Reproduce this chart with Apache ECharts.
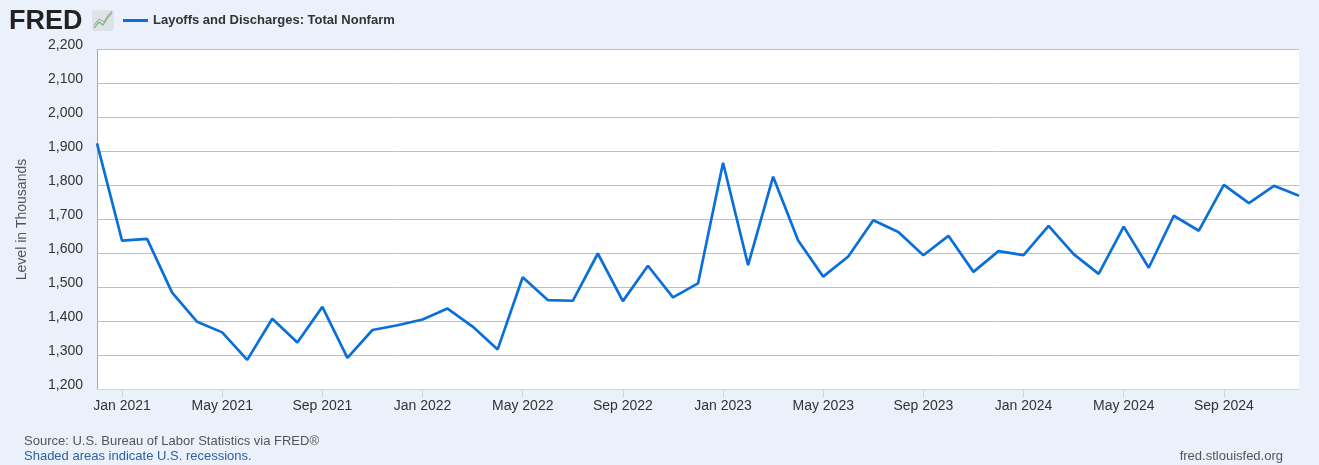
<!DOCTYPE html>
<html>
<head>
<meta charset="utf-8">
<script src="https://cdn.jsdelivr.net/npm/echarts@6/dist/echarts.min.js"></script>
<style>
html,body{margin:0;padding:0;background:#eaf1fa;}
#chart{width:1319px;height:465px;}
</style>
</head>
<body>
<div id="chart"></div>
<script>
var months = ['2020-12',
  '2021-01','2021-02','2021-03','2021-04','2021-05','2021-06','2021-07','2021-08','2021-09','2021-10','2021-11','2021-12',
  '2022-01','2022-02','2022-03','2022-04','2022-05','2022-06','2022-07','2022-08','2022-09','2022-10','2022-11','2022-12',
  '2023-01','2023-02','2023-03','2023-04','2023-05','2023-06','2023-07','2023-08','2023-09','2023-10','2023-11','2023-12',
  '2024-01','2024-02','2024-03','2024-04','2024-05','2024-06','2024-07','2024-08','2024-09','2024-10','2024-11','2024-12'];
var layoffs = [1924,
  1638,1643,1485,1399,1368,1287,1408,1338,1443,1293,1375,1389,
  1406,1438,1385,1318,1530,1463,1461,1600,1460,1564,1471,1512,
  1867,1566,1826,1638,1532,1591,1698,1663,1595,1652,1546,1607,
  1595,1681,1598,1540,1679,1558,1711,1667,1802,1748,1799,1770];
var seriesName = 'Layoffs and Discharges: Total Nonfarm';
var yMin = 1200, yMax = 2200, yStep = 100;
var monthNames = ['Jan','Feb','Mar','Apr','May','Jun','Jul','Aug','Sep','Oct','Nov','Dec'];

var chart = echarts.init(document.getElementById('chart'));
var font = 'Liberation Sans, Arial, sans-serif';
function showTick(i){ return i % 4 === 1; }
chart.setOption({
  backgroundColor: '#eaf1fa',
  animation: false,
  textStyle: {fontFamily: font},
  grid: {left: 97, right: 20, top: 49.5, bottom: 75.5, show: true, backgroundColor: '#ffffff', borderWidth: 0},
  legend: {
    left: 123, top: 14, padding: 0, itemWidth: 25, itemHeight: 3, itemGap: 10,
    icon: 'rect',
    textStyle: {fontSize: 13, fontWeight: 'bold', color: '#333', fontFamily: font},
    data: [seriesName]
  },
  xAxis: {
    type: 'category', data: months, boundaryGap: false,
    axisLine: {show: true, lineStyle: {color: '#ccd6e0', width: 1}},
    axisTick: {show: true, interval: function(i){return showTick(i);}, length: 8, lineStyle: {color: '#ccd6e0'}},
    axisLabel: {
      interval: function(i){return showTick(i);}, margin: 10,
      fontSize: 14, color: '#333', fontFamily: font,
      formatter: function(v){ var p = v.split('-'); return monthNames[+p[1]-1] + ' ' + p[0]; }
    },
    splitLine: {show: false}
  },
  yAxis: {
    type: 'value', min: yMin, max: yMax, interval: yStep,
    name: 'Level in Thousands', nameLocation: 'middle', nameRotate: 90, nameGap: 68,
    nameTextStyle: {fontSize: 14, color: '#555', fontFamily: font},
    axisLine: {show: true, lineStyle: {color: '#a8a8a8', width: 1}},
    axisTick: {show: false},
    axisLabel: {
      fontSize: 14, color: '#333', margin: 14, fontFamily: font,
      verticalAlign: 'bottom', lineHeight: 8,
      formatter: function(v){ return v.toLocaleString('en-US'); }
    },
    splitLine: {show: true, lineStyle: {color: '#c0c0c0', width: 1}}
  },
  series: [{
    name: seriesName, type: 'line', data: layoffs,
    showSymbol: false, symbol: 'none',
    lineStyle: {color: '#0b6fd9', width: 2.7},
    itemStyle: {color: '#0b6fd9'}
  }],
  graphic: [
    {type: 'text', left: 9, top: 8, style: {text: 'FRED', font: 'bold 27px Liberation Sans, Arial, sans-serif', fill: '#222'}},
    {type: 'rect', shape: {x: 92, y: 10, width: 22, height: 21, r: 2}, style: {fill: '#dde3e8'}},
    {type: 'polyline', shape: {points: [[94,28],[99,22],[103,25],[108,17],[112,13]]}, style: {stroke: '#8bb86e', lineWidth: 1.3, fill: null}},
    {type: 'polyline', shape: {points: [[94,25],[99,19],[104,22],[109,14],[112,11]]}, style: {stroke: '#9aa4ad', lineWidth: 1, fill: null}},
    {type: 'text', left: 24, top: 435, style: {text: 'Source: U.S. Bureau of Labor Statistics via FRED®', font: '13px Liberation Sans, Arial, sans-serif', fill: '#555'}},
    {type: 'text', left: 24, top: 450, style: {text: 'Shaded areas indicate U.S. recessions.', font: '13px Liberation Sans, Arial, sans-serif', fill: '#2f5f9e'}},
    {type: 'text', right: 36, top: 450, style: {text: 'fred.stlouisfed.org', font: '13px Liberation Sans, Arial, sans-serif', fill: '#555'}}
  ]
});
</script>
</body>
</html>
